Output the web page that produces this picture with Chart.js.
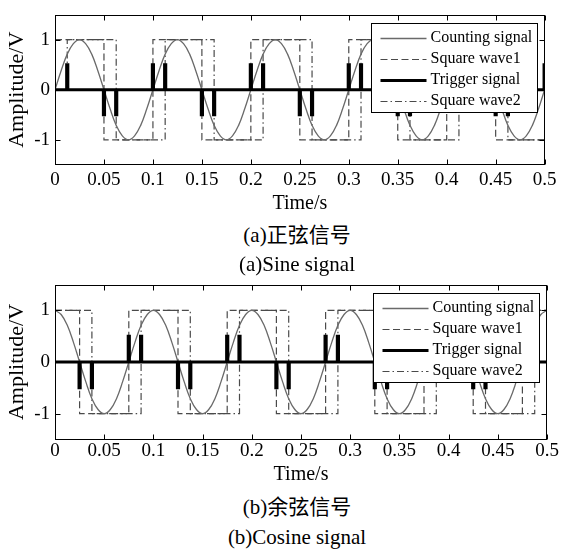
<!DOCTYPE html>
<html><head><meta charset="utf-8">
<script src="https://cdn.jsdelivr.net/npm/chart.js@4.4.1/dist/chart.umd.min.js"></script>
<style>
html,body{margin:0;padding:0;background:#fff;}
#wrap{position:relative;width:562px;height:552px;overflow:hidden;background:#fff;}
canvas{position:absolute;left:0;}
.cap{position:absolute;left:147px;width:300px;text-align:center;font-family:"Liberation Serif","Noto Sans CJK SC",serif;font-size:21px;line-height:24px;color:#000;white-space:nowrap;}
</style></head><body>
<div id="wrap">
<canvas id="c1" width="562" height="220" style="top:0px"></canvas>
<canvas id="c2" width="562" height="220" style="top:270px"></canvas>
<div class="cap" style="top:223px">(a)正弦信号</div>
<div class="cap" style="top:252px">(a)Sine signal</div>
<div class="cap" style="top:495px">(b)余弦信号</div>
<div class="cap" style="top:525px">(b)Cosine signal</div>
</div>
<script>
// ---------------- data ----------------
const xTickValues = [0, 0.05, 0.1, 0.15, 0.2, 0.25, 0.3, 0.35, 0.4, 0.45, 0.5];
const xTickLabels = ['0', '0.05', '0.1', '0.15', '0.2', '0.25', '0.3', '0.35', '0.4', '0.45', '0.5'];
const yTickValues = [-1, 0, 1];
const yTickLabels = ['-1', '0', '1'];
const legendLabels = ['Counting signal', 'Square wave1', 'Trigger signal', 'Square wave2'];

const sampleStep = 0.00625; // seconds between counting-signal samples
const sineCounting = [
  0, 0.38, 0.71, 0.92, 1, 0.92, 0.71, 0.38, 0, -0.38, -0.71, -0.92, -1, -0.92, -0.71, -0.38,
  0, 0.38, 0.71, 0.92, 1, 0.92, 0.71, 0.38, 0, -0.38, -0.71, -0.92, -1, -0.92, -0.71, -0.38,
  0, 0.38, 0.71, 0.92, 1, 0.92, 0.71, 0.38, 0, -0.38, -0.71, -0.92, -1, -0.92, -0.71, -0.38,
  0, 0.38, 0.71, 0.92, 1, 0.92, 0.71, 0.38, 0, -0.38, -0.71, -0.92, -1, -0.92, -0.71, -0.38,
  0, 0.38, 0.71, 0.92, 1, 0.92, 0.71, 0.38, 0, -0.38, -0.71, -0.92, -1, -0.92, -0.71, -0.38,
  0
];
const cosineCounting = [
  1, 0.92, 0.71, 0.38, 0, -0.38, -0.71, -0.92, -1, -0.92, -0.71, -0.38, 0, 0.38, 0.71, 0.92,
  1, 0.92, 0.71, 0.38, 0, -0.38, -0.71, -0.92, -1, -0.92, -0.71, -0.38, 0, 0.38, 0.71, 0.92,
  1, 0.92, 0.71, 0.38, 0, -0.38, -0.71, -0.92, -1, -0.92, -0.71, -0.38, 0, 0.38, 0.71, 0.92,
  1, 0.92, 0.71, 0.38, 0, -0.38, -0.71, -0.92, -1, -0.92, -0.71, -0.38, 0, 0.38, 0.71, 0.92,
  1, 0.92, 0.71, 0.38, 0, -0.38, -0.71, -0.92, -1, -0.92, -0.71, -0.38, 0, 0.38, 0.71, 0.92,
  1
];

// square waves: level switches at each edge time
const sineSq1Times  = [0, 0.05, 0.1, 0.15, 0.2, 0.25, 0.3, 0.35, 0.4, 0.45, 0.5];
const sineSq1Levels = [1, -1, 1, -1, 1, -1, 1, -1, 1, -1, 1];
const sineSq2Times  = [0, 0.0125, 0.0625, 0.1125, 0.1625, 0.2125, 0.2625, 0.3125, 0.3625, 0.4125, 0.4625, 0.5];
const sineSq2Levels = [0, 1, -1, 1, -1, 1, -1, 1, -1, 1, -1, -1];
const sineTrigTimes  = [0.0125, 0.05, 0.0625, 0.1, 0.1125, 0.15, 0.1625, 0.2, 0.2125, 0.25, 0.2625, 0.3, 0.3125, 0.35, 0.3625, 0.4, 0.4125, 0.45, 0.4625, 0.5];
const sineTrigLevels = [0.5, -0.5, -0.5, 0.5, 0.5, -0.5, -0.5, 0.5, 0.5, -0.5, -0.5, 0.5, 0.5, -0.5, -0.5, 0.5, 0.5, -0.5, -0.5, 0.5];

const cosSq1Times  = [0, 0.025, 0.075, 0.125, 0.175, 0.225, 0.275, 0.325, 0.375, 0.425, 0.475, 0.5];
const cosSq1Levels = [1, -1, 1, -1, 1, -1, 1, -1, 1, -1, 1, 1];
const cosSq2Times  = [0, 0.0375, 0.0875, 0.1375, 0.1875, 0.2375, 0.2875, 0.3375, 0.3875, 0.4375, 0.4875, 0.5];
const cosSq2Levels = [1, -1, 1, -1, 1, -1, 1, -1, 1, -1, 1, 1];
const cosTrigTimes  = [0.025, 0.0375, 0.075, 0.0875, 0.125, 0.1375, 0.175, 0.1875, 0.225, 0.2375, 0.275, 0.2875, 0.325, 0.3375, 0.375, 0.3875, 0.425, 0.4375, 0.475, 0.4875];
const cosTrigLevels = [-0.5, -0.5, 0.5, 0.5, -0.5, -0.5, 0.5, 0.5, -0.5, -0.5, 0.5, 0.5, -0.5, -0.5, 0.5, 0.5, -0.5, -0.5, 0.5, 0.5];

// ---------------- helpers ----------------
const SERIF = '"Liberation Serif", "Times New Roman", serif';
const PULSE_W = 0.0012;
const X_MIN = 0, X_MAX = 0.5;

function countingPoints(vals) { return vals.map((v, i) => ({x: i * sampleStep, y: v})); }
function stepPoints(times, levels) { return times.map((t, i) => ({x: t, y: levels[i]})); }
function triggerPoints(times, levels) {
  const pts = [{x: X_MIN, y: 0}];
  times.forEach((t, i) => {
    pts.push({x: t - PULSE_W / 2, y: 0}, {x: t - PULSE_W / 2, y: levels[i]},
             {x: t + PULSE_W / 2, y: levels[i]}, {x: t + PULSE_W / 2, y: 0});
  });
  pts.push({x: X_MAX, y: 0});
  return pts;
}

const styles = [
  {color: '#6a6a6a', width: 1.3, dash: []},
  {color: '#4a4a4a', width: 1.2, dash: [7, 3.5]},
  {color: '#000000', width: 3, dash: []},
  {color: '#4a4a4a', width: 1.2, dash: [7, 3, 1.5, 3]}
];

const framePlugin = {
  id: 'frame',
  afterDatasetsDraw(chart) {
    const {ctx, chartArea: a, scales} = chart;
    ctx.save();
    ctx.setLineDash([]);
    ctx.strokeStyle = '#000';
    ctx.lineWidth = 1;
    const L = Math.round(a.left) + 0.5, R = Math.round(a.right) - 0.5;
    const T = Math.round(a.top) + 0.5, B = Math.round(a.bottom) - 0.5;
    ctx.strokeRect(L, T, R - L, B - T);
    const tl = 5;
    ctx.beginPath();
    xTickValues.forEach(v => {
      const px = Math.round(scales.x.getPixelForValue(v)) + 0.5;
      ctx.moveTo(px, B); ctx.lineTo(px, B - tl);
      ctx.moveTo(px, T); ctx.lineTo(px, T + tl);
    });
    yTickValues.forEach(v => {
      const py = Math.round(scales.y.getPixelForValue(v)) + 0.5;
      ctx.moveTo(L, py); ctx.lineTo(L + tl, py);
      ctx.moveTo(R, py); ctx.lineTo(R - tl, py);
    });
    ctx.stroke();
    // legend
    const bw = 166, bh = 89;
    const bx = Math.round(a.right - 8 - bw) + 0.5, by = Math.round(a.top + 8) + 0.5;
    ctx.fillStyle = '#fff';
    ctx.fillRect(bx, by, bw, bh);
    ctx.strokeRect(bx, by, bw, bh);
    ctx.font = '16px ' + SERIF;
    ctx.textAlign = 'left';
    ctx.textBaseline = 'middle';
    legendLabels.forEach((lab, i) => {
      const ry = by + 14.5 + 21 * i;
      const st = styles[i];
      ctx.strokeStyle = st.color;
      ctx.lineWidth = st.width;
      ctx.setLineDash(st.dash);
      ctx.beginPath();
      ctx.moveTo(bx + 9, Math.round(ry) + 0.5);
      ctx.lineTo(bx + 55, Math.round(ry) + 0.5);
      ctx.stroke();
      ctx.fillStyle = '#000';
      ctx.fillText(lab, bx + 59, ry);
    });
    ctx.restore();
  }
};

function makeChart(id, counting, s1t, s1l, s2t, s2l, trt, trl, p) {
  const sets = [
    {data: countingPoints(counting), tension: 0.4},
    {data: stepPoints(s1t, s1l), stepped: true},
    {data: triggerPoints(trt, trl)},
    {data: stepPoints(s2t, s2l), stepped: true}
  ].map((d, i) => Object.assign({
    label: legendLabels[i],
    borderColor: styles[i].color,
    borderWidth: styles[i].width,
    borderDash: styles[i].dash,
    pointRadius: 0,
    fill: false,
    borderJoinStyle: 'miter',
    borderCapStyle: 'butt',
    order: i === 2 ? 0 : (i === 0 ? 1 : 2)
  }, d));
  return new Chart(document.getElementById(id), {
    type: 'line',
    data: {datasets: sets},
    options: {
      responsive: false,
      animation: false,
      events: [],
      layout: {padding: {top: p.padTop, right: 15, left: 0, bottom: 0}},
      plugins: {legend: {display: false}, tooltip: {enabled: false}},
      scales: {
        x: {
          type: 'linear', min: X_MIN, max: X_MAX,
          grid: {display: false, drawTicks: false}, border: {display: false},
          afterBuildTicks: s => { s.ticks = xTickValues.map(v => ({value: v})); },
          afterFit: s => { s.height = p.axH; },
          ticks: {autoSkip: false, maxRotation: 0, minRotation: 0, padding: p.tickPad, color: '#000',
                  font: {family: SERIF, size: 19, lineHeight: 1}, callback: (v, i) => xTickLabels[i]},
          title: {display: true, text: 'Time/s', color: '#000', font: {family: SERIF, size: 20, lineHeight: 1.2},
                  padding: {top: 0, bottom: p.titlePad}}
        },
        y: {
          type: 'linear', min: -1.5, max: 1.5,
          grid: {display: false, drawTicks: false}, border: {display: false},
          afterBuildTicks: s => { s.ticks = yTickValues.map(v => ({value: v})); },
          afterFit: s => { s.width = 55; },
          ticks: {padding: 5, color: '#000', font: {family: SERIF, size: 19, lineHeight: 1},
                  callback: (v, i) => yTickLabels[i]},
          title: {display: true, text: 'Amplitude/V', color: '#000', font: {family: SERIF, size: 22, lineHeight: 1.2},
                  padding: {top: 4, bottom: 0}}
        }
      }
    },
    plugins: [framePlugin]
  });
}

makeChart('c1', sineCounting, sineSq1Times, sineSq1Levels, sineSq2Times, sineSq2Levels, sineTrigTimes, sineTrigLevels,
          {padTop: 9, axH: 55, tickPad: 5.5, titlePad: 4});
makeChart('c2', cosineCounting, cosSq1Times, cosSq1Levels, cosSq2Times, cosSq2Levels, cosTrigTimes, cosTrigLevels,
          {padTop: 14, axH: 50.5, tickPad: 2, titlePad: 3});
</script>
</body></html>
